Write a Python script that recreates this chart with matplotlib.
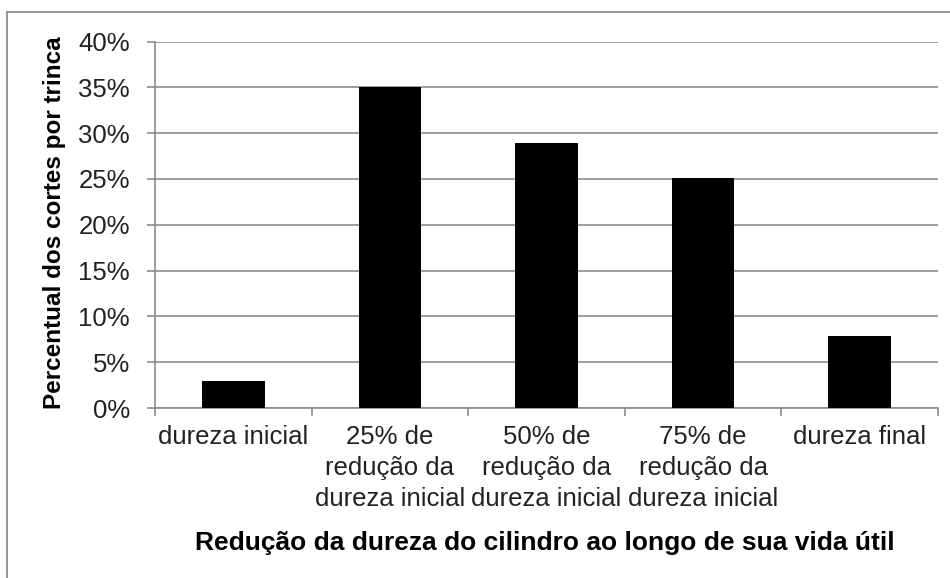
import numpy as np
import matplotlib
matplotlib.use("Agg")
import matplotlib.pyplot as plt
from matplotlib.lines import Line2D

# Data
categories = ["dureza inicial",
              "25% de\nredução da\ndureza inicial",
              "50% de\nredução da\ndureza inicial",
              "75% de\nredução da\ndureza inicial",
              "dureza final"]
values = [0.029, 0.350, 0.289, 0.251, 0.079]
yticks = [0.0, 0.05, 0.10, 0.15, 0.20, 0.25, 0.30, 0.35, 0.40]

plt.rcParams['font.family'] = ['Liberation Sans', 'DejaVu Sans']

W, H = 950, 578
fig = plt.figure(figsize=(W / 100, H / 100), dpi=100)
ax = fig.add_axes([155 / W, 1 - 408 / H, (938 - 155) / W, (408 - 41.5) / H])

# chart area border (only top and left edges fall inside the picture)
border = '#8c8c8c'
fig.lines.append(Line2D([7 / W, 7 / W], [-0.05, 1 - 12 / H],
                        transform=fig.transFigure, color=border, lw=1.3))
fig.lines.append(Line2D([7 / W, 1.05], [1 - 12 / H, 1 - 12 / H],
                        transform=fig.transFigure, color=border, lw=1.3))

x = np.arange(len(categories))
ax.bar(x, values, width=0.4, color='black', zorder=3)

ax.set_xlim(-0.5, len(categories) - 0.5)
ax.set_ylim(0, 0.40)
ax.set_yticks(yticks)
ax.set_yticklabels(["%d%%" % round(v * 100) for v in yticks], fontsize=18.5,
                   color='#222222')
ax.yaxis.grid(True, color=border, linewidth=1.2, zorder=0)
ax.tick_params(axis='y', length=6, width=1.2, color=border, pad=12)

ax.set_xticks(x)
ax.set_xticklabels(categories, fontsize=18.5, color='#222222',
                   linespacing=1.38)
ax.set_xticks(np.arange(-0.5, len(categories)), minor=True)
ax.tick_params(axis='x', which='major', length=0, pad=12)
ax.tick_params(axis='x', which='minor', length=6, width=1.2, color=border)

for s in ['top', 'right']:
    ax.spines[s].set_visible(False)
for s in ['left', 'bottom']:
    ax.spines[s].set_color(border)
    ax.spines[s].set_linewidth(1.2)

fig.text(55 / W, 1 - 223 / H, "Percentual dos cortes por trinca",
         rotation=90, ha='center', va='center', fontsize=17.5,
         fontweight='bold')
fig.text(545 / W, 1 - 543 / H,
         "Redução da dureza do cilindro ao longo de sua vida útil",
         ha='center', va='center', fontsize=19, fontweight='bold')

fig.savefig("out.png", dpi=100)
